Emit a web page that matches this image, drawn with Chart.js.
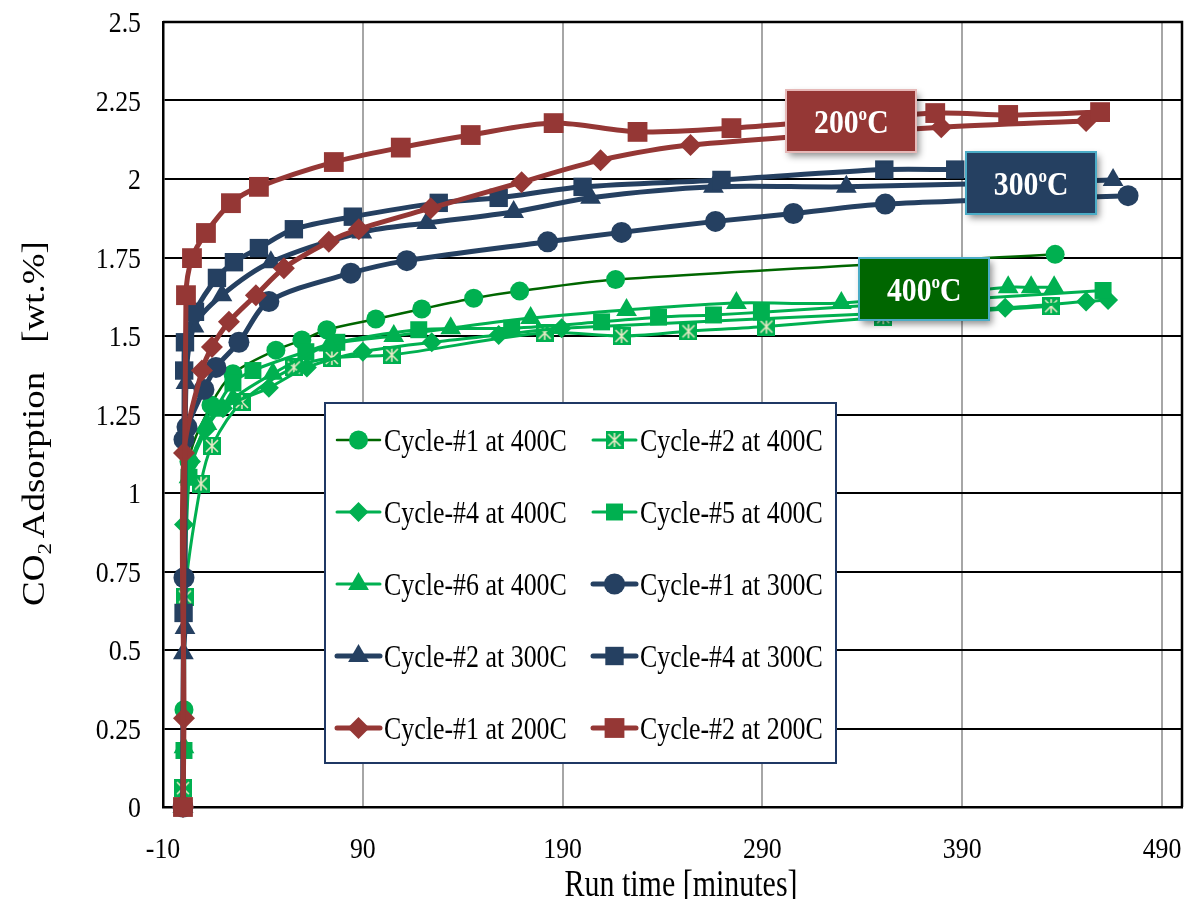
<!DOCTYPE html>
<html>
<head>
<meta charset="utf-8">
<script src="https://cdn.jsdelivr.net/npm/chart.js@4/dist/chart.umd.min.js"></script>
<style>
  html, body { margin: 0; padding: 0; background: #fff; }
  #wrap { width: 1188px; height: 899px; }
</style>
</head>
<body>
<div id="wrap"><canvas id="chart" width="1188" height="899"></canvas></div>
<script>
// run time [min] / CO2 uptake [wt.%] per cycle
const c1_400_t = [0, 0.5, 3, 14, 25, 46.5, 59.5, 72, 96.5, 119.5, 145.5, 168.5, 216.5, 436.5];
const c1_400_v = [0, 0.31, 1.1, 1.28, 1.38, 1.455, 1.487, 1.52, 1.554, 1.586, 1.62, 1.643, 1.68, 1.76];
const c2_400_t = [0, 1, 9, 14.5, 29.5, 55.5, 74.5, 104.5, 181, 219.5, 253, 292, 350.5, 434.5];
const c2_400_v = [0.06, 0.67, 1.03, 1.15, 1.29, 1.40, 1.43, 1.44, 1.51, 1.50, 1.515, 1.53, 1.56, 1.595];
const c4_400_t = [0, 0.5, 4, 11, 20, 43, 62, 90, 124.5, 158, 189.5, 411.5, 452, 463];
const c4_400_v = [0, 0.9, 1.1, 1.2, 1.27, 1.335, 1.40, 1.45, 1.48, 1.503, 1.525, 1.59, 1.61, 1.615];
const c5_400_t = [0, 0.5, 3, 17, 25, 35, 61.5, 77, 118, 164.5, 209.5, 238, 265.5, 289.5, 460.5];
const c5_400_v = [0, 0.18, 1.05, 1.27, 1.35, 1.39, 1.45, 1.48, 1.52, 1.525, 1.545, 1.56, 1.567, 1.576, 1.645];
const c6_400_t = [0, 0.5, 3, 12, 25, 45, 73, 105.5, 134, 174, 222, 277, 329.5, 413, 424.5, 436];
const c6_400_v = [0, 0.19, 1.05, 1.22, 1.30, 1.38, 1.47, 1.50, 1.525, 1.557, 1.583, 1.605, 1.605, 1.655, 1.655, 1.655];
const c1_300_t = [0, 0.5, 0.5, 2, 10.5, 16.5, 28, 43, 84, 112, 182.5, 219.5, 266.5, 305.5, 351.5, 473];
const c1_300_v = [0, 0.73, 1.17, 1.21, 1.33, 1.40, 1.48, 1.61, 1.70, 1.74, 1.80, 1.83, 1.865, 1.89, 1.92, 1.947];
const c2_300_t = [0, 0.2, 1, 1.5, 5.5, 19.5, 44, 89.5, 122, 165.5, 204, 265.5, 332, 465.5];
const c2_300_v = [0, 0.49, 0.57, 1.35, 1.53, 1.63, 1.735, 1.83, 1.86, 1.895, 1.94, 1.975, 1.975, 1.997];
const c4_300_t = [0, 0.3, 0.6, 1, 6, 17, 25.5, 38, 55.5, 85, 128, 158, 200, 269.5, 351, 386.5];
const c4_300_v = [0, 0.618, 1.39, 1.48, 1.577, 1.685, 1.735, 1.78, 1.84, 1.88, 1.924, 1.94, 1.975, 1.997, 2.03, 2.03];
const c1_200_t = [0, 0.5, 0.5, 9.5, 14.5, 23, 36.5, 50.5, 73, 88, 124, 169.5, 209, 254, 379.5, 452];
const c1_200_v = [0, 0.283, 1.127, 1.39, 1.465, 1.545, 1.63, 1.716, 1.80, 1.84, 1.907, 1.99, 2.06, 2.108, 2.165, 2.185];
const c2_200_t = [0, 1.5, 4.5, 11.5, 24, 38, 75.5, 109, 144, 185.5, 227.5, 274.5, 376.5, 413, 459];
const c2_200_v = [0, 1.63, 1.748, 1.828, 1.923, 1.975, 2.054, 2.10, 2.14, 2.178, 2.15, 2.162, 2.21, 2.204, 2.213];

const xTicks = [-10, 90, 190, 290, 390, 490];
const yTicks = [0, 0.25, 0.5, 0.75, 1, 1.25, 1.5, 1.75, 2, 2.25, 2.5];

const GREEN = '#00B050', DKGREEN = '#006600', NAVY = '#254061', BROWN = '#953735';
const SERIF = "'Liberation Serif', 'Times New Roman', serif";

// green square with a pale star, used as a point image
function starBox(size) {
  const c = document.createElement('canvas');
  c.width = c.height = size;
  const g = c.getContext('2d');
  g.fillStyle = GREEN;
  g.fillRect(0, 0, size, size);
  g.strokeStyle = '#E4E8C4';
  g.lineWidth = 1.6;
  g.beginPath();
  g.moveTo(3, 3); g.lineTo(size - 3, size - 3);
  g.moveTo(size - 3, 3); g.lineTo(3, size - 3);
  g.moveTo(size / 2, 2); g.lineTo(size / 2, size - 2);
  g.stroke();
  return c;
}
const starImg = starBox(18);

function series(label, t, v, line, lineWidth, fill, pointStyle, radius) {
  return {
    label: label,
    data: t.map((x, i) => ({ x: x, y: v[i] })),
    borderColor: line,
    borderWidth: lineWidth,
    backgroundColor: fill,
    pointBackgroundColor: fill,
    pointBorderWidth: 0,
    pointStyle: pointStyle,
    pointRadius: radius,
    tension: 0.3,
    clip: false
  };
}

const datasets = [
  series('Cycle-#1 at 400C', c1_400_t, c1_400_v, DKGREEN, 2.5, GREEN, 'circle', 9.5),
  series('Cycle-#2 at 400C', c2_400_t, c2_400_v, GREEN, 3, GREEN, starImg, 9),
  series('Cycle-#4 at 400C', c4_400_t, c4_400_v, GREEN, 3, GREEN, 'rectRot', 10),
  series('Cycle-#5 at 400C', c5_400_t, c5_400_v, GREEN, 3, GREEN, 'rect', 12),
  series('Cycle-#6 at 400C', c6_400_t, c6_400_v, GREEN, 3, GREEN, 'triangle', 12),
  series('Cycle-#1 at 300C', c1_300_t, c1_300_v, NAVY, 5, NAVY, 'circle', 10.5),
  series('Cycle-#2 at 300C', c2_300_t, c2_300_v, NAVY, 5, NAVY, 'triangle', 12),
  series('Cycle-#4 at 300C', c4_300_t, c4_300_v, NAVY, 5, NAVY, 'rect', 13),
  series('Cycle-#1 at 200C', c1_200_t, c1_200_v, BROWN, 5, BROWN, 'rectRot', 11),
  series('Cycle-#2 at 200C', c2_200_t, c2_200_v, BROWN, 5, BROWN, 'rect', 14)
];
// later series sit on top
datasets.forEach((d, i) => { d.order = datasets.length - i; });

// temperature tags, anchored in data coordinates
const tags = [
  { text: '200', x: 334.5, y: 2.185, fill: BROWN, edge: '#E6B9B8' },
  { text: '300', x: 424.5, y: 1.987, fill: NAVY, edge: '#4BACC6' },
  { text: '400', x: 371, y: 1.65, fill: DKGREEN, edge: '#4BACC6' }
];

// text squeezed along its own x direction
function squeezedText(ctx, txt, x, y, sx) {
  ctx.save();
  ctx.translate(x, y);
  ctx.scale(sx, 1);
  ctx.fillText(txt, 0, 0);
  ctx.restore();
}

const decorations = {
  id: 'decorations',
  beforeDatasetsDraw(chart) {
    const { ctx, chartArea: a } = chart;
    const xs = chart.scales.x, ys = chart.scales.y;
    ctx.save();
    ctx.strokeStyle = '#000';
    ctx.lineWidth = 2.5;
    ctx.beginPath();
    ctx.moveTo(a.left, a.top);
    ctx.lineTo(a.right, a.top);
    ctx.lineTo(a.right, a.bottom);
    ctx.stroke();

    // tick labels
    ctx.fillStyle = '#000';
    ctx.font = '30px ' + SERIF;
    ctx.textBaseline = 'alphabetic';
    ctx.textAlign = 'right';
    yTicks.forEach(v => {
      squeezedText(ctx, String(v), 141, ys.getPixelForValue(v) + 10, 0.86);
    });
    ctx.textAlign = 'center';
    xTicks.forEach(v => {
      squeezedText(ctx, String(v), xs.getPixelForValue(v), 858, 0.86);
    });
    ctx.restore();
  },
  afterDatasetsDraw(chart) {
    const { ctx } = chart;
    const xs = chart.scales.x, ys = chart.scales.y;

    // temperature tags
    tags.forEach(tag => {
      const cx = xs.getPixelForValue(tag.x), cy = ys.getPixelForValue(tag.y);
      const w = 130, h = 62;
      const l = Math.round(cx - w / 2), t = Math.round(cy - h / 2);
      ctx.save();
      ctx.shadowColor = 'rgba(0,0,0,0.45)';
      ctx.shadowBlur = 7;
      ctx.shadowOffsetX = 3;
      ctx.shadowOffsetY = 4;
      ctx.fillStyle = tag.fill;
      ctx.fillRect(l, t, w, h);
      ctx.restore();
      ctx.save();
      ctx.strokeStyle = tag.edge;
      ctx.lineWidth = 2;
      ctx.strokeRect(l, t, w, h);
      ctx.fillStyle = '#fff';
      ctx.textBaseline = 'alphabetic';
      const sx = 0.9;
      ctx.font = 'bold 33px ' + SERIF;
      const wNum = ctx.measureText(tag.text).width * sx;
      const wC = ctx.measureText('C').width * sx;
      ctx.font = 'bold 19px ' + SERIF;
      const wO = ctx.measureText('o').width * sx;
      const x0 = cx - (wNum + wO + wC) / 2;
      const base = cy + 12;
      ctx.font = 'bold 33px ' + SERIF;
      squeezedText(ctx, tag.text, x0, base, sx);
      ctx.font = 'bold 19px ' + SERIF;
      squeezedText(ctx, 'o', x0 + wNum, base - 13, sx);
      ctx.font = 'bold 33px ' + SERIF;
      squeezedText(ctx, 'C', x0 + wNum + wO, base, sx);
      ctx.restore();
    });

    // legend box
    const L = { left: 325, top: 403, right: 836, bottom: 763 };
    ctx.save();
    ctx.fillStyle = '#fff';
    ctx.fillRect(L.left, L.top, L.right - L.left, L.bottom - L.top);
    ctx.strokeStyle = '#1F3864';
    ctx.lineWidth = 2;
    ctx.strokeRect(L.left, L.top, L.right - L.left, L.bottom - L.top);
    ctx.font = '32px ' + SERIF;
    ctx.textBaseline = 'alphabetic';
    const cols = [{ l0: 337, l1: 380, tx: 384 }, { l0: 593, l1: 636, tx: 640 }];
    chart.data.datasets.forEach((d, i) => {
      const col = cols[i % 2];
      const row = Math.floor(i / 2);
      const cy = 440 + row * 72;
      ctx.strokeStyle = d.borderColor;
      ctx.lineWidth = d.borderWidth;
      ctx.lineCap = 'round';
      ctx.beginPath();
      ctx.moveTo(col.l0, cy);
      ctx.lineTo(col.l1, cy);
      ctx.stroke();
      ctx.fillStyle = d.pointBackgroundColor;
      Chart.helpers.drawPoint(ctx, {
        pointStyle: d.pointStyle, radius: d.pointRadius, rotation: 0, borderWidth: 0
      }, (col.l0 + col.l1) / 2, cy);
      ctx.fillStyle = '#000';
      squeezedText(ctx, d.label, col.tx, cy + 11, 0.81);
    });
    ctx.restore();

    // axis titles
    ctx.save();
    ctx.fillStyle = '#000';
    ctx.textAlign = 'center';
    ctx.textBaseline = 'alphabetic';
    ctx.font = '37px ' + SERIF;
    squeezedText(ctx, 'Run time [minutes]', 681, 896, 0.81);

    ctx.translate(44, 0);
    ctx.rotate(-Math.PI / 2);
    ctx.scale(1, 0.85);
    ctx.textAlign = 'left';
    ctx.font = '37px ' + SERIF;
    const wCO = ctx.measureText('CO').width;
    ctx.fillText('CO', -606, 0);
    ctx.font = '23px ' + SERIF;
    ctx.fillText('2', -606 + wCO, 8);
    ctx.font = '37px ' + SERIF;
    ctx.textAlign = 'center';
    ctx.fillText('Adsorption', -455, 0);
    ctx.fillText('[wt.%]', -292, 0);
    ctx.restore();
  }
};

new Chart(document.getElementById('chart'), {
  type: 'line',
  data: { datasets: datasets },
  options: {
    responsive: false,
    animation: false,
    layout: { autoPadding: false, padding: { left: 0, right: 6, top: 22, bottom: 0 } },
    plugins: { legend: { display: false }, tooltip: { enabled: false } },
    scales: {
      x: {
        type: 'linear',
        min: -10,
        max: 500,
        afterBuildTicks: s => { s.ticks = xTicks.map(v => ({ value: v })); },
        afterFit: s => {
          s.height = 92;
          s.paddingLeft = s.paddingRight = s.paddingTop = s.paddingBottom = 0;
        },
        grid: { color: '#A6A6A6', lineWidth: 2, drawTicks: false },
        border: { display: true, color: '#000', width: 2.5 },
        ticks: { display: false }
      },
      y: {
        type: 'linear',
        min: 0,
        max: 2.5,
        afterBuildTicks: s => { s.ticks = yTicks.map(v => ({ value: v })); },
        afterFit: s => {
          s.width = 163;
          s.paddingLeft = s.paddingRight = s.paddingTop = s.paddingBottom = 0;
        },
        grid: { color: '#000', lineWidth: 2, drawTicks: false },
        border: { display: true, color: '#000', width: 2.5 },
        ticks: { display: false }
      }
    }
  },
  plugins: [decorations]
});
</script>
</body>
</html>
